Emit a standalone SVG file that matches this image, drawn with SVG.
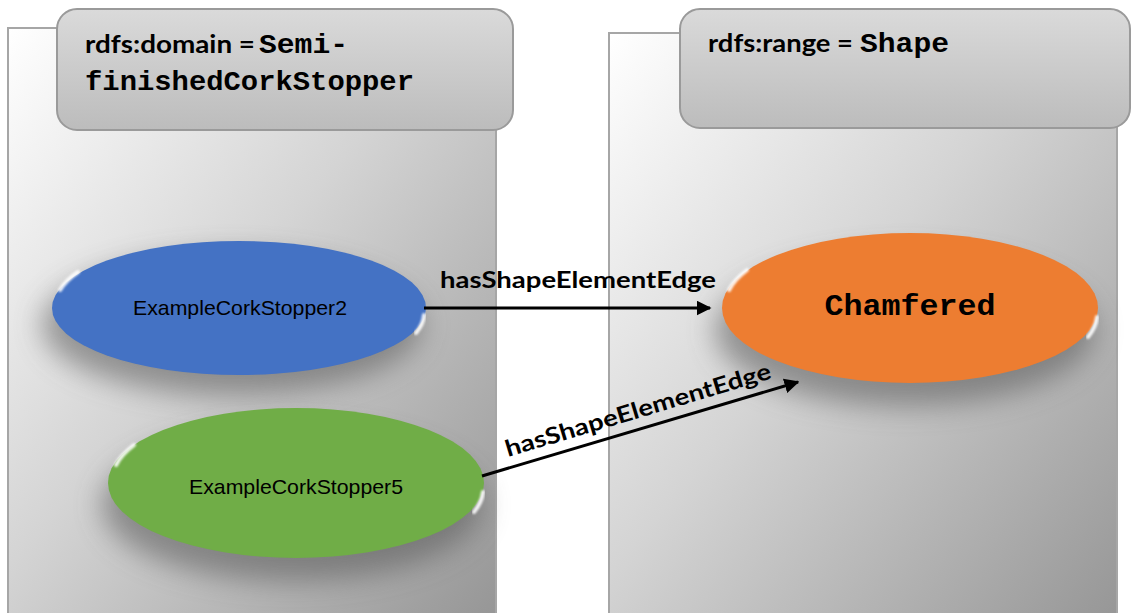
<svg xmlns="http://www.w3.org/2000/svg" width="1132" height="613" viewBox="0 0 1132 613">
  <defs>
    <linearGradient id="panelGrad" x1="0" y1="0" x2="1" y2="1">
      <stop offset="0" stop-color="#ffffff"/>
      <stop offset="0.45" stop-color="#d4d4d4"/>
      <stop offset="1" stop-color="#959595"/>
    </linearGradient>
    <linearGradient id="headGrad" x1="0" y1="0" x2="0" y2="1">
      <stop offset="0" stop-color="#dadada"/>
      <stop offset="1" stop-color="#bcbcbc"/>
    </linearGradient>
    <filter id="shadow" x="-30%" y="-30%" width="160%" height="180%">
      <feGaussianBlur stdDeviation="14"/>
    </filter>
    <filter id="glint" x="-20%" y="-20%" width="140%" height="140%">
      <feGaussianBlur stdDeviation="1"/>
    </filter>
    <marker id="arrow" viewBox="0 0 10 10" refX="9" refY="5" markerWidth="5" markerHeight="5" orient="auto" markerUnits="strokeWidth">
      <path d="M0,0 L10,5 L0,10 Z" fill="#000"/>
    </marker>
    <style>
      .panel { fill: url(#panelGrad); stroke: #a6a6a6; stroke-width: 2; }
      .head { fill: url(#headGrad); stroke: #9a9a9a; stroke-width: 2; }
      .shade { fill: #555; opacity: 0.55; filter: url(#shadow); }
      .hl { fill: none; stroke: #ffffff; stroke-width: 4; stroke-linecap: round; opacity: 0.9; filter: url(#glint); }
      .sans { font-family: Lato, "Open Sans", "Liberation Sans", sans-serif; font-weight: bold; font-size: 25px; fill: #000; }
      .mono { font-family: "Liberation Mono", "Courier New", monospace; font-weight: bold; fill: #000; }
      .lbl { font-family: "Liberation Sans", Arial, sans-serif; font-size: 21px; fill: #000; text-anchor: middle; }
      .edge { stroke: #000; stroke-width: 3; fill: none; marker-end: url(#arrow); }
      .elbl { font-family: Lato, "Open Sans", "Liberation Sans", sans-serif; font-weight: bold; font-size: 23px; fill: #000; }
    </style>
  </defs>

  <g id="domain-panel">
    <rect class="panel" x="8" y="28" width="488" height="600"/>
    <rect class="head" x="57" y="9" width="456" height="121" rx="20"/>
    <text class="sans" x="85" y="53" textLength="170" lengthAdjust="spacingAndGlyphs">rdfs:domain =</text>
    <text class="mono" x="259" y="53" font-size="28" textLength="89" lengthAdjust="spacingAndGlyphs">Semi-</text>
    <text class="mono" x="85" y="90" font-size="28" textLength="329" lengthAdjust="spacingAndGlyphs">finishedCorkStopper</text>
  </g>

  <g id="range-panel">
    <rect class="panel" x="609" y="33" width="508" height="600"/>
    <rect class="head" x="680" y="9" width="450" height="119" rx="20"/>
    <text class="sans" x="708" y="52" textLength="145" lengthAdjust="spacingAndGlyphs">rdfs:range =</text>
    <text class="mono" x="860" y="52" font-size="28" textLength="89" lengthAdjust="spacingAndGlyphs">Shape</text>
  </g>

  <g id="node-ExampleCorkStopper2">
    <ellipse class="shade" cx="232" cy="325" rx="190" ry="70"/>
    <ellipse cx="239" cy="308" rx="187" ry="67" fill="#4472c4"/>
    <path class="hl" d="M60,290 A187,67 0 0 1 78,272"/>
    <path class="hl" d="M416,333 A187,67 0 0 0 424,315"/>
    <text class="lbl" x="240" y="315" textLength="214" lengthAdjust="spacingAndGlyphs">ExampleCorkStopper2</text>
  </g>

  <g id="node-ExampleCorkStopper5">
    <ellipse class="shade" cx="292" cy="505" rx="190" ry="76"/>
    <ellipse cx="296" cy="483" rx="188" ry="75" fill="#70ad47"/>
    <path class="hl" d="M116,465 A188,75 0 0 1 134,445"/>
    <path class="hl" d="M474,512 A188,75 0 0 0 483,492"/>
    <text class="lbl" x="296" y="494" textLength="214" lengthAdjust="spacingAndGlyphs">ExampleCorkStopper5</text>
  </g>

  <g id="node-Chamfered">
    <ellipse class="shade" cx="905" cy="330" rx="190" ry="76"/>
    <ellipse cx="910" cy="308" rx="188" ry="75" fill="#ed7d31"/>
    <path class="hl" d="M729,290 A188,75 0 0 1 747,270"/>
    <path class="hl" d="M1088,337 A188,75 0 0 0 1097,317"/>
    <text class="mono" x="910" y="315" font-size="30" text-anchor="middle" textLength="171" lengthAdjust="spacingAndGlyphs">Chamfered</text>
  </g>

  <g id="connectors">
    <line class="edge" x1="424" y1="308" x2="710" y2="308"/>
    <text class="elbl" x="440" y="288" textLength="276" lengthAdjust="spacingAndGlyphs">hasShapeElementEdge</text>
    <line class="edge" x1="482" y1="476" x2="798" y2="382"/>
    <text class="elbl" transform="translate(508,457) rotate(-16.6)" textLength="276" lengthAdjust="spacingAndGlyphs">hasShapeElementEdge</text>
  </g>
</svg>
